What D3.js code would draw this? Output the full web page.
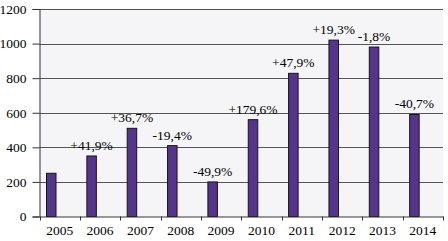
<!DOCTYPE html>
<html>
<head>
  <style>
    body, html { margin: 0; padding: 0; background: #fff; }
    text { font-family: "Liberation Serif", "Times New Roman", serif; fill: #000; }
  </style>
</head>
<body>
  <svg id="svg" width="448" height="241"></svg>
  <script src="https://d3js.org/d3.v7.min.js"></script>
  <script>
    const years = ['2005', '2006', '2007', '2008', '2009', '2010', '2011', '2012', '2013', '2014']
    const values = [250, 350, 510, 410, 200, 560, 828, 1020, 980, 590]
    const changes = ['', '+41,9%', '+36,7%', '-19,4%', '-49,9%', '+179,6%', '+47,9%', '+19,3%', '-1,8%', '-40,7%']
    const yTicks = [0, 200, 400, 600, 800, 1000, 1200]

    const plotLeft = 39.5, plotRight = 443, plotTop = 9, plotBottom = 216.5
    const serif = '"Liberation Serif", "Times New Roman", serif'

    const svg = d3.select('#svg')

    const x = d3.scaleBand().domain(years).range([plotLeft, plotRight])
    const y = d3.scaleLinear().domain([0, 1200]).range([plotBottom, plotTop])

    // plot background
    svg.append('rect')
      .attr('x', plotLeft).attr('y', plotTop)
      .attr('width', plotRight - plotLeft).attr('height', plotBottom - plotTop)
      .attr('fill', '#f5f5f8')

    // gridlines
    svg.append('g')
      .selectAll('line')
      .data(yTicks.filter(d => d > 0))
      .join('line')
      .attr('x1', plotLeft).attr('x2', plotRight)
      .attr('y1', d => Math.round(y(d)) + 0.5).attr('y2', d => Math.round(y(d)) + 0.5)
      .attr('stroke', '#555').attr('stroke-width', 1)

    // bars (offset left in band as in original)
    const barW = 9.5
    svg.append('g')
      .selectAll('rect')
      .data(years)
      .join('rect')
      .attr('x', (d, i) => x(d) + 7)
      .attr('y', (d, i) => y(values[i]))
      .attr('width', barW)
      .attr('height', (d, i) => plotBottom - y(values[i]))
      .attr('fill', '#55358a')
      .attr('stroke', '#1a1025')
      .attr('stroke-width', 1)

    // change labels
    svg.append('g')
      .selectAll('text')
      .data(years)
      .join('text')
      .attr('x', (d, i) => x(d) + 7 + barW / 2)
      .attr('y', (d, i) => y(values[i]) - 6)
      .attr('text-anchor', 'middle')
      .attr('font-size', 13.5)
      .style('font-family', serif)
      .text((d, i) => changes[i])

    // y axis
    const yAxis = svg.append('g')
      .attr('transform', `translate(${plotLeft},0)`)
      .call(d3.axisLeft(y).tickValues(yTicks).tickFormat(d3.format('d')).tickSize(7).tickPadding(6))
    yAxis.selectAll('text').attr('font-size', 13.5).style('font-family', serif)
    yAxis.selectAll('line, path').attr('stroke', '#333')

    // x axis
    const xAxis = svg.append('g')
      .attr('transform', `translate(0,${plotBottom})`)
      .call(d3.axisBottom(x).tickSize(0).tickPadding(9))
    xAxis.select('.domain').attr('stroke', '#333')
    xAxis.selectAll('text').attr('font-size', 13.5).style('font-family', serif)
    // ticks at band boundaries
    xAxis.append('g')
      .selectAll('line')
      .data(years.concat(['end']))
      .join('line')
      .attr('x1', (d, i) => Math.round(plotLeft + i * x.bandwidth()) + 0.5)
      .attr('x2', (d, i) => Math.round(plotLeft + i * x.bandwidth()) + 0.5)
      .attr('y1', 0).attr('y2', 4)
      .attr('stroke', '#333')
  </script>
</body>
</html>
